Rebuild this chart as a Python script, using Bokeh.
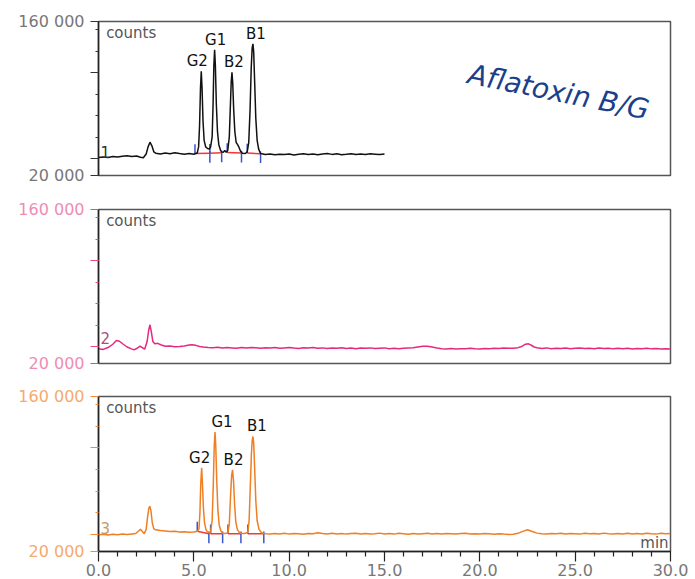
from bokeh.plotting import figure
from bokeh.layouts import column
from bokeh.models import FixedTicker, Range1d, Label, PrintfTickFormatter
from bokeh.embed import file_html
from bokeh.resources import INLINE
from bokeh.core.properties import value

# ---------------- data (counts in thousands, time in min) ----------------
trace1_time = [0.0, 0.25, 0.5, 0.75, 1.0, 1.25, 1.5, 1.75, 2.0, 2.2, 2.35, 2.5, 2.6, 2.7, 2.8, 2.9,
               3.0, 3.25, 3.5, 3.75, 4.0, 4.25, 4.5, 4.75, 5.0, 5.06, 5.18, 5.25, 5.30, 5.35, 5.39,
               5.43, 5.48, 5.54, 5.62, 5.72, 5.82, 5.88, 5.96, 6.01, 6.05, 6.09, 6.13, 6.18, 6.24,
               6.31, 6.40, 6.46, 6.55, 6.62, 6.70, 6.78, 6.86, 6.92, 6.96, 7.00, 7.04, 7.09, 7.15,
               7.22, 7.28, 7.36, 7.45, 7.55, 7.70, 7.80, 7.88, 7.95, 8.01, 8.06, 8.10, 8.14, 8.19,
               8.25, 8.32, 8.40, 8.50, 8.75, 9.0, 9.25, 9.5, 9.75, 10.0, 10.25, 10.5, 10.75, 11.0,
               11.25, 11.5, 11.75, 12.0, 12.25, 12.5, 12.75, 13.0, 13.25, 13.5, 13.75, 14.0, 14.25,
               14.5, 14.75, 15.0]
trace1_counts_k = [36.3, 36.9, 36.4, 37.2, 36.8, 37.5, 37.9, 37.3, 37.8, 36.6, 36.2, 39.5, 46.0, 50.3, 47.0, 41.5,
                   40.3, 39.6, 40.4, 39.8, 40.6, 39.9, 39.4, 39.9, 39.3, 39.8, 40.5, 46.0, 65.0, 100.0, 114.8,
                   100.0, 70.0, 52.0, 46.0, 44.5, 44.0, 46.0, 55.0, 85.0, 120.0, 134.3, 120.0, 85.0, 60.0,
                   48.0, 43.0, 41.5, 41.0, 42.8, 41.2, 43.0, 55.0, 85.0, 105.0, 113.9, 104.0, 80.0, 60.0,
                   50.0, 48.5, 46.0, 42.0, 40.3, 40.0, 41.5, 50.0, 80.0, 118.0, 136.0, 139.7, 132.0, 105.0,
                   72.0, 52.0, 44.0, 40.0, 39.0, 39.6, 38.8, 39.4, 39.0, 39.5, 38.7, 39.3, 39.8, 39.1,
                   39.6, 38.9, 39.5, 39.9, 39.2, 39.7, 38.9, 39.3, 39.8, 39.0, 39.6, 39.2, 39.7,
                   39.4, 39.0, 39.5]

trace2_time = [0.0, 0.25, 0.5, 0.75, 0.94, 1.1, 1.3, 1.5, 1.7, 1.86, 2.0, 2.18, 2.3, 2.42, 2.55, 2.63,
               2.7, 2.77, 2.85, 2.95, 3.1, 3.3, 3.5, 3.75, 4.0, 4.25, 4.5, 4.75, 4.9, 5.1, 5.3, 5.5,
               5.75, 6.0, 6.25, 6.5, 6.75, 7.0, 7.25, 7.5, 7.75, 8.0, 8.25, 8.5, 8.75, 9.0, 9.25, 9.5,
               9.75, 10.0, 10.25, 10.5, 10.75, 11.0, 11.25, 11.5, 11.75, 12.0, 12.25, 12.5, 12.75,
               13.0, 13.25, 13.5, 13.75, 14.0, 14.25, 14.5, 14.75, 15.0, 15.25, 15.5, 15.75, 16.0,
               16.25, 16.5, 16.75, 17.0, 17.25, 17.5, 17.75, 18.0, 18.25, 18.5, 18.75, 19.0, 19.25,
               19.5, 19.75, 20.0, 20.25, 20.5, 20.75, 21.0, 21.25, 21.5, 21.75, 22.0, 22.2, 22.4,
               22.55, 22.7, 22.85, 23.0, 23.25, 23.5, 23.75, 24.0, 24.25, 24.5, 24.75, 25.0, 25.25,
               25.5, 25.75, 26.0, 26.25, 26.5, 26.75, 27.0, 27.25, 27.5, 27.75, 28.0, 28.25, 28.5,
               28.75, 29.0, 29.25, 29.5, 29.75, 30.0]
trace2_counts_k = [33.4, 32.8, 34.5, 37.5, 40.9, 40.2, 37.5, 35.0, 33.5, 32.4, 33.6, 35.7, 34.5, 33.0, 40.0, 50.0,
                   55.2, 49.0, 40.0, 38.0, 38.3, 36.8, 35.7, 36.0, 35.2, 35.5, 35.9, 36.8, 37.0, 36.5, 35.4, 35.0,
                   34.6, 34.3, 34.8, 34.1, 34.6, 34.2, 33.8, 34.5, 34.0, 34.6, 34.3, 33.9, 34.4, 34.0, 34.5, 33.8,
                   34.2, 34.6, 34.0, 33.7, 34.3, 34.0, 34.5, 33.9, 34.2, 33.6, 34.1, 33.8, 34.3,
                   33.7, 34.0, 33.5, 34.1, 33.8, 34.2, 33.6, 33.9, 34.2, 33.5, 33.9, 33.4, 33.8,
                   34.1, 34.4, 35.0, 35.6, 35.7, 35.0, 34.0, 33.4, 33.1, 33.6, 33.2, 33.5, 33.3,
                   33.8, 33.4, 33.2, 33.7, 33.5, 33.9, 33.6, 34.1, 33.8, 33.9, 34.4, 35.5, 37.6,
                   37.9, 36.6, 35.0, 34.4, 33.7, 34.2, 33.5, 33.9, 33.6, 34.1, 33.4, 33.8, 34.2,
                   33.7, 33.9, 33.4, 34.0, 33.6, 33.9, 33.3, 33.8, 33.5, 33.9, 33.2, 33.7, 33.4,
                   33.9, 33.3, 33.6, 33.1, 33.5, 33.2]

trace3_time = [0.0, 0.25, 0.5, 0.75, 1.0, 1.25, 1.5, 1.75, 1.95, 2.1, 2.2, 2.3, 2.4, 2.5, 2.58, 2.64,
               2.69, 2.75, 2.82, 2.9, 3.0, 3.25, 3.5, 3.75, 4.0, 4.25, 4.5, 4.75, 5.0, 5.18, 5.27, 5.32,
               5.36, 5.41, 5.45, 5.50, 5.56, 5.64, 5.72, 5.79, 5.88, 5.96, 6.02, 6.07, 6.11, 6.15, 6.20,
               6.26, 6.33, 6.42, 6.51, 6.60, 6.70, 6.79, 6.86, 6.92, 6.98, 7.03, 7.08, 7.14, 7.20, 7.28,
               7.37, 7.47, 7.60, 7.72, 7.83, 7.90, 7.96, 8.02, 8.06, 8.10, 8.14, 8.19, 8.25, 8.32, 8.42,
               8.55, 8.67, 8.80, 9.0, 9.25, 9.5, 9.75, 10.0, 10.25, 10.5, 10.75, 11.0, 11.25, 11.5, 11.75,
               12.0, 12.25, 12.5, 12.75, 13.0, 13.25, 13.5, 13.75, 14.0, 14.25, 14.5, 14.75, 15.0, 15.25,
               15.5, 15.75, 16.0, 16.25, 16.5, 16.75, 17.0, 17.25, 17.5, 17.75, 18.0, 18.25, 18.5, 18.75,
               19.0, 19.25, 19.5, 19.75, 20.0, 20.25, 20.5, 20.75, 21.0, 21.25, 21.5, 21.75, 22.0, 22.25,
               22.5, 22.75, 23.0, 23.25, 23.5, 23.75, 24.0, 24.25, 24.5, 24.75, 25.0, 25.25, 25.5, 25.75,
               26.0, 26.25, 26.5, 26.75, 27.0, 27.25, 27.5, 27.75, 28.0, 28.25, 28.5, 28.75, 29.0, 29.25,
               29.5, 29.75, 30.0]
trace3_counts_k = [35.2, 35.6, 35.0, 35.5, 35.1, 35.8, 35.3, 35.9, 36.3, 38.5, 40.0, 38.0, 36.0, 40.0, 52.0, 59.0,
                   60.9, 57.0, 46.0, 40.5, 39.6, 39.0, 38.6, 38.0, 38.3, 37.6, 37.9, 37.3, 37.6, 38.2, 40.5, 55.0,
                   80.0, 95.6, 82.0, 60.0, 46.0, 39.5, 37.5, 37.0, 37.5, 48.0, 80.0, 115.0, 127.8, 116.0, 85.0,
                   58.0, 44.0, 38.5, 36.5, 36.2, 36.4, 37.0, 45.0, 68.0, 88.0, 93.8, 84.0, 62.0, 47.0, 40.0,
                   37.5, 36.5, 36.2, 36.4, 37.5, 48.0, 78.0, 108.0, 120.0, 123.9, 118.0, 95.0, 66.0, 48.0, 40.0,
                   37.0, 36.2, 36.0, 35.8, 36.3, 35.9, 36.4, 35.7, 36.2, 36.0, 35.6, 36.3, 36.1, 37.0, 36.2,
                   35.8, 36.4, 35.9, 36.3, 35.7, 36.2, 36.5, 35.9, 36.3, 35.8, 36.1, 36.6, 35.9, 36.2,
                   35.7, 36.4, 36.0, 35.6, 36.3, 35.8, 36.1, 36.4, 35.9, 36.2, 35.8, 36.3, 36.0, 35.7,
                   36.2, 36.5, 35.9, 36.1, 35.8, 36.3, 36.0, 35.6, 36.1, 35.7, 35.4, 35.6, 36.4, 38.2,
                   39.6, 38.0, 36.6, 36.0, 35.7, 36.2, 36.0, 36.5, 35.8, 36.3, 36.1, 35.7, 36.4, 36.0,
                   36.3, 35.8, 36.6, 36.1, 35.7, 36.2, 35.9, 36.4, 35.8, 36.3, 35.9, 36.5, 36.0, 35.7,
                   36.4, 36.1, 36.3]

peak_names = ["G2", "G1", "B2", "B1"]
peaks1_rt = [5.39, 6.09, 7.00, 8.10]
peaks1_height_k = [114.8, 134.3, 113.9, 139.7]
peaks3_rt = [5.41, 6.11, 7.03, 8.10]
peaks3_height_k = [95.6, 127.8, 93.8, 123.9]

int1_start = [5.06, 5.84, 6.75, 7.80]
int1_end = [5.84, 6.46, 7.50, 8.50]
int1_base_start_k = [40.0, 40.2, 40.8, 40.4]
int1_base_end_k = [40.2, 40.6, 40.4, 39.8]
int3_start = [5.18, 5.88, 6.79, 7.83]
int3_end = [5.79, 6.51, 7.47, 8.67]
int3_base_start_k = [38.3, 36.0, 36.0, 36.0]
int3_base_end_k = [36.0, 36.0, 36.0, 36.0]

y_tick_values = [20000, 160000]
y_tick_labels = ["20 000", "160 000"]
y_mid_ticks = [35500, 113500]
y_minor_ticks = [35500, 55000, 74500, 94000, 113500, 133000, 152500]
x_major_ticks = [0, 5, 10, 15, 20, 25, 30]
x_minor_ticks = [1, 2, 3, 4, 6, 7, 8, 9, 11, 12, 13, 14, 16, 17, 18, 19, 21, 22, 23, 24, 26, 27, 28, 29]

FONT = "DejaVu Sans"
K = 1000.0


def k(vals):
    return [v * K for v in vals]


def make_panel(frame_h, top, bottom, line_color, tick_color, label_color, num_text, num_color, num_y_k,
               show_x=False):
    p = figure(frame_width=572, frame_height=frame_h, min_border_left=98, min_border_right=25,
               min_border_top=top, min_border_bottom=bottom, toolbar_location=None,
               output_backend="svg", x_range=Range1d(0, 30), y_range=Range1d(20000, 160000),
               background_fill_color="white", border_fill_color="white")
    p.xgrid.visible = False
    p.ygrid.visible = False
    p.outline_line_color = "#555555"
    p.outline_line_width = 1.5

    ya = p.yaxis[0]
    ya.ticker = FixedTicker(ticks=y_tick_values + y_mid_ticks, minor_ticks=y_minor_ticks)
    overrides = {v: lab for v, lab in zip(y_tick_values, y_tick_labels)}
    for v in y_mid_ticks:
        overrides[v] = ""
    ya.major_label_overrides = overrides
    ya.axis_line_color = "#222222"
    ya.axis_line_width = 1.5
    ya.major_tick_line_color = tick_color
    ya.minor_tick_line_color = tick_color
    ya.major_tick_line_width = 1.2
    ya.minor_tick_line_width = 1.2
    ya.major_tick_in = 0
    ya.major_tick_out = 8
    ya.minor_tick_in = 0
    ya.minor_tick_out = 3
    ya.major_label_text_color = label_color
    ya.major_label_text_font = FONT
    ya.major_label_text_font_size = "16px"
    ya.major_label_standoff = 6

    xa = p.xaxis[0]
    if show_x:
        xa.ticker = FixedTicker(ticks=x_major_ticks, minor_ticks=x_minor_ticks)
        xa.formatter = PrintfTickFormatter(format="%.1f")
        xa.axis_line_color = "#222222"
        xa.axis_line_width = 1.5
        xa.major_tick_line_color = "#222222"
        xa.minor_tick_line_color = "#222222"
        xa.major_tick_line_width = 1.2
        xa.minor_tick_line_width = 1.2
        xa.major_tick_in = 0
        xa.major_tick_out = 10
        xa.minor_tick_in = 0
        xa.minor_tick_out = 5
        xa.major_label_text_color = "#777777"
        xa.major_label_text_font = FONT
        xa.major_label_text_font_size = "16px"
        xa.major_label_standoff = 2
    else:
        xa.visible = False

    p.add_layout(Label(x=0.4, y=149300, text="counts", text_baseline="middle", text_font=FONT,
                       text_font_size="15px", text_color="#555555"))
    p.add_layout(Label(x=0.1, y=num_y_k * K, text=num_text, text_baseline="middle", text_font=FONT,
                       text_font_size="15px", text_color=num_color))
    return p


def add_integration(p, starts, ends, base_s, base_e):
    p.segment(x0=starts, y0=k(base_s), x1=ends, y1=k(base_e), line_color="#f03a3a", line_width=1.5)
    up = [v * K for v in base_s]
    p.segment(x0=starts, y0=up, x1=starts, y1=[v + 8500 for v in up], line_color="#3a55c8", line_width=1.5)
    dn = [v * K for v in base_e]
    p.segment(x0=ends, y0=[v - 8500 for v in dn], x1=ends, y1=[v + 2000 for v in dn],
              line_color="#3a55c8", line_width=1.5)


def add_peak_labels(p, rts, heights, dx):
    p.text(x=rts, y=k(heights), text=peak_names, x_offset=dx, y_offset=-10, text_align="center",
           text_baseline="middle", text_font=value(FONT), text_font_size="15px", text_color="#111111")


# ---------------- panel 1 ----------------
p1 = make_panel(154, 21, 17, "#111111", "#333333", "#777777", "1", "#333333", 41.5)
add_integration(p1, int1_start, int1_end, int1_base_start_k, int1_base_end_k)
p1.line(trace1_time, k(trace1_counts_k), line_color="#111111", line_width=1.5)
add_peak_labels(p1, peaks1_rt, peaks1_height_k, [-4, 1, 2, 3])
p1.add_layout(Label(x=19.4, y=112500, text="Aflatoxin B/G", angle=-0.2, text_align="left",
                    text_baseline="alphabetic", text_font=FONT, text_font_style="italic",
                    text_font_size="28px", text_color="#1b3f8b"))

# ---------------- panel 2 ----------------
p2 = make_panel(154, 17, 17, "#e6287f", "#e8488c", "#f08cb4", "2", "#a8507c", 43.0)
p2.line(trace2_time, k(trace2_counts_k), line_color="#e6287f", line_width=1.5)

# ---------------- panel 3 ----------------
p3 = make_panel(155, 16, 28, "#f07e22", "#f28a3a", "#f6aa6e", "3", "#c49a6a", 41.5, show_x=True)
add_integration(p3, int3_start, int3_end, int3_base_start_k, int3_base_end_k)
p3.line(trace3_time, k(trace3_counts_k), line_color="#f07e22", line_width=1.5)
add_peak_labels(p3, peaks3_rt, peaks3_height_k, [-2, 7, 1, 4])
p3.add_layout(Label(x=29.9, y=28100, text="min", text_align="right", text_baseline="middle",
                    text_font=FONT, text_font_size="15px", text_color="#555555"))

layout = column(p1, p2, p3, spacing=0)
open("out.html", "w").write(file_html(layout, INLINE))
